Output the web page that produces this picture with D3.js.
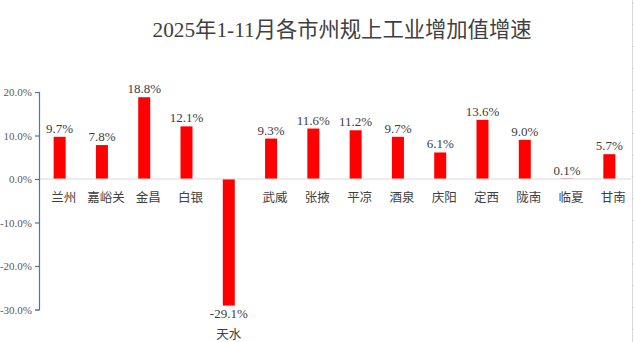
<!DOCTYPE html>
<html>
<head>
<meta charset="utf-8">
<script src="https://cdn.jsdelivr.net/npm/d3@7"></script>
<style>
  html, body { margin: 0; padding: 0; background: #fff; }
  svg { display: block; }
</style>
</head>
<body>
<svg id="chart" width="634" height="342"></svg>
<script>
// 2025年1-11月各市州规上工业增加值增速 (%)
const title = "2025年1-11月各市州规上工业增加值增速";
const cities = ["兰州", "嘉峪关", "金昌", "白银", "天水", "武威", "张掖",
                "平凉", "酒泉", "庆阳", "定西", "陇南", "临夏", "甘南"];
const growth = [9.7, 7.8, 18.8, 12.1, -29.1, 9.3, 11.6,
                11.2, 9.7, 6.1, 13.6, 9.0, 0.1, 5.7];
const yTicks = [-30, -20, -10, 0, 10, 20];

(function () {
  const svg = d3.select("#chart");
  const W = 634, H = 342;
  const plotLeft = 39, plotRight = 631, plotTop = 92, plotBottom = 309.5;

  const serif = "'Liberation Serif', 'Times New Roman', 'Noto Sans CJK SC', serif";
  const cjk = "'Liberation Serif', 'Noto Sans CJK SC', serif";

  const x = d3.scaleBand().domain(cities).range([plotLeft, plotRight]).paddingInner(0).paddingOuter(0);
  const y = d3.scaleLinear().domain([-30, 20]).range([plotBottom, plotTop]);
  const barW = 12;
  const barCx = d => x(d) + x.bandwidth() / 2 - 0.5;

  // title
  svg.append("text")
    .attr("x", 342).attr("y", 37)
    .attr("text-anchor", "middle")
    .attr("font-family", cjk)
    .attr("font-size", 21.3)
    .attr("fill", "#404040")
    .text(title);

  // right-hand frame edge with small ticks
  const yEdge = d3.scaleLinear().domain([-30, 20]).range([plotBottom - 2, plotTop - 2]);
  const edgeTicks = d3.range(-35, 45, 5);
  svg.append("line")
    .attr("x1", 632.5).attr("x2", 632.5).attr("y1", 0).attr("y2", H)
    .attr("stroke", "#d9d9d9").attr("stroke-width", 1);
  svg.selectAll("line.edgeTick").data(edgeTicks).join("line")
    .attr("class", "edgeTick")
    .attr("x1", 632.5).attr("x2", 634)
    .attr("y1", d => yEdge(d)).attr("y2", d => yEdge(d))
    .attr("stroke", "#d9d9d9");

  // bars
  svg.selectAll("rect.bar").data(cities).join("rect")
    .attr("class", "bar")
    .attr("x", d => barCx(d) - barW / 2)
    .attr("width", barW)
    .attr("y", (d, i) => y(Math.max(0, growth[i])))
    .attr("height", (d, i) => Math.abs(y(growth[i]) - y(0)))
    .attr("fill", "#ff0000");

  // zero line
  svg.append("line")
    .attr("x1", plotLeft).attr("x2", plotRight)
    .attr("y1", y(0)).attr("y2", y(0))
    .attr("stroke", "#d9d9d9").attr("stroke-width", 1.2);

  // value axis
  const yAxis = d3.axisLeft(y).tickValues(yTicks).tickSize(4).tickPadding(3)
    .tickFormat(d => d.toFixed(1) + "%");
  const gy = svg.append("g").attr("transform", `translate(${plotLeft},0)`).call(yAxis);
  gy.select(".domain").attr("stroke", "#4a76b8").attr("stroke-width", 1.2);
  gy.selectAll(".tick line").attr("stroke", "#4a76b8").attr("stroke-width", 1.2);
  gy.selectAll(".tick text")
    .attr("font-family", serif).attr("font-size", 11).attr("fill", "#595959");

  // value labels
  svg.selectAll("text.val").data(cities).join("text")
    .attr("class", "val")
    .attr("x", d => barCx(d))
    .attr("y", (d, i) => growth[i] >= 0 ? y(growth[i]) - 4 : y(growth[i]) + 12)
    .attr("text-anchor", "middle")
    .attr("font-family", serif).attr("font-size", 13)
    .attr("fill", "#404040")
    .text((d, i) => growth[i].toFixed(1) + "%");

  // category labels
  svg.selectAll("text.cat").data(cities).join("text")
    .attr("class", "cat")
    .attr("x", (d, i) => growth[i] >= 0 ? barCx(d) + 4 : barCx(d))
    .attr("y", (d, i) => growth[i] >= 0 ? y(0) + 23 : y(growth[i]) + 33)
    .attr("text-anchor", "middle")
    .attr("font-family", cjk).attr("font-size", 12.5)
    .attr("fill", "#404040")
    .text(d => d);
})();
</script>
</body>
</html>
